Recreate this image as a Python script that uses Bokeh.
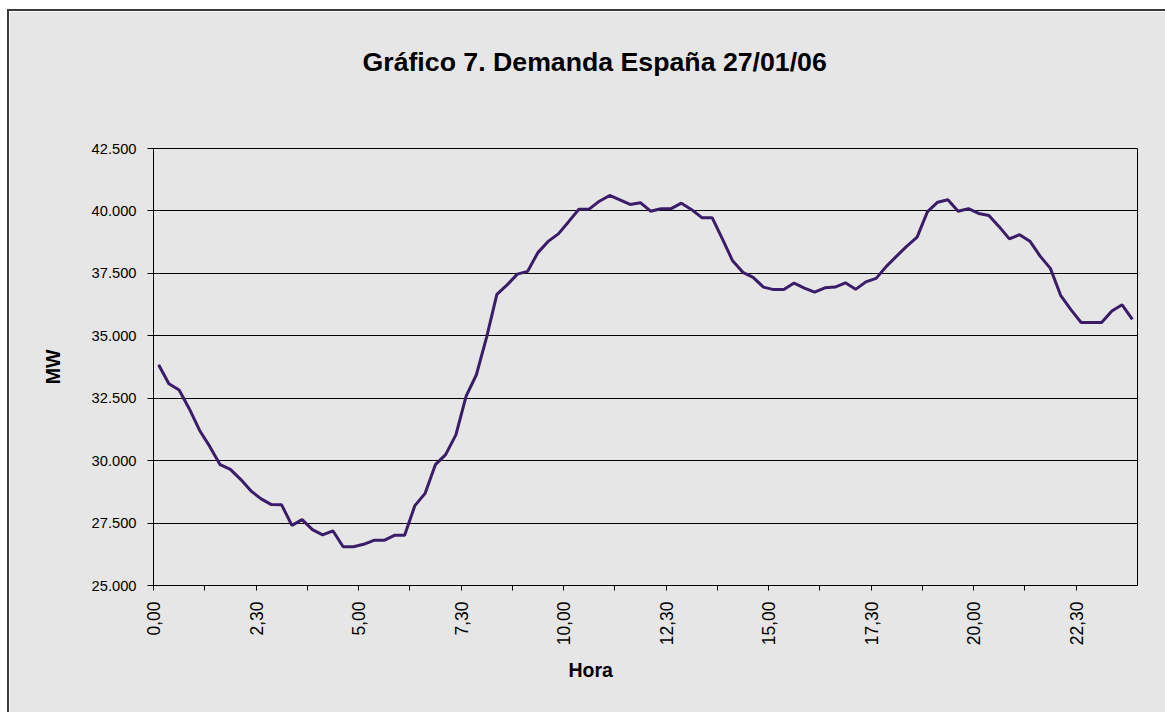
import math
import numpy as np
from bokeh.plotting import figure
from bokeh.models import Range1d, FixedTicker, Title
from bokeh.embed import file_html
from bokeh.resources import INLINE

# Demanda peninsular cada 15 minutos (MW), 27/01/2006, de 0:00 a 23:45
demand = [
    33840, 33080, 32830, 32070, 31210, 30560, 29840, 29650,
    29250, 28790, 28470, 28240, 28230, 27410, 27640, 27240,
    27030, 27190, 26550, 26550, 26650, 26810, 26810, 27010,
    27010, 28200, 28690, 29840, 30240, 31030, 32580, 33440,
    34950, 36660, 37040, 37470, 37580, 38330, 38780, 39080,
    39570, 40070, 40070, 40390, 40620, 40440, 40260, 40330,
    39990, 40090, 40090, 40310, 40050, 39730, 39730, 38880,
    38000, 37540, 37340, 36950, 36850, 36850, 37110, 36910,
    36750, 36920, 36950, 37120, 36860, 37160, 37300, 37780,
    38190, 38590, 38950, 39960, 40350, 40450, 39990, 40090,
    39900, 39820, 39370, 38880, 39050, 38790, 38190, 37700,
    36620, 36050, 35530, 35530, 35530, 35990, 36240, 35660,
]

hour_labels = ["0,00", "2,30", "5,00", "7,30", "10,00",
               "12,30", "15,00", "17,30", "20,00", "22,30"]
mw_ticks = [25000, 27500, 30000, 32500, 35000, 37500, 40000, 42500]

FONT = "Liberation Sans"
BG = "#E6E6E6"
LINE = "#3B1C69"

slot = np.arange(len(demand))

p = figure(
    output_backend="svg", toolbar_location=None,
    frame_width=984, frame_height=437,
    min_border_left=144, min_border_right=28,
    min_border_top=137, min_border_bottom=127,
    x_range=Range1d(-0.5, len(demand) - 0.5),
    y_range=Range1d(mw_ticks[0], mw_ticks[-1]),
    background_fill_color=BG, border_fill_color=BG,
    margin=(9, 0, 0, 7),
    styles={"border-left": "2px solid #3a3a3a", "border-top": "2px solid #3a3a3a"},
    title_location=None,
)

p.outline_line_color = "black"
p.outline_line_width = 1

# Category axis: tick marks on the boundaries every 5 slots, labels every 10 slots
bounds = [k * 5 - 0.5 for k in range(len(demand) // 5)]
xa = p.xaxis[0]
xa.ticker = FixedTicker(ticks=bounds, minor_ticks=[])
xa.major_label_overrides = {
    b: (hour_labels[i // 2] if i % 2 == 0 else "") for i, b in enumerate(bounds)
}
xa.major_label_orientation = math.pi / 2
xa.major_label_text_font = FONT
xa.major_label_text_font_size = "17.5px"
xa.major_label_text_color = "black"
xa.major_label_standoff = 11
xa.major_tick_in = 0
xa.major_tick_out = 5
xa.major_tick_line_color = "black"
xa.axis_line_color = "black"
xa.minor_tick_line_color = None

ya = p.yaxis[0]
ya.ticker = FixedTicker(ticks=mw_ticks, minor_ticks=[])
ya.major_label_overrides = {v: f"{v:,}".replace(",", ".") for v in mw_ticks}
ya.major_label_text_font = FONT
ya.major_label_text_font_size = "14.7px"
ya.major_label_text_color = "black"
ya.major_label_standoff = 11
ya.major_tick_in = 0
ya.major_tick_out = 6
ya.major_tick_line_color = "black"
ya.axis_line_color = "black"
ya.minor_tick_line_color = None

p.xgrid.visible = False
p.ygrid.ticker = FixedTicker(ticks=mw_ticks, minor_ticks=[])
p.ygrid.grid_line_color = "black"
p.ygrid.grid_line_width = 1

# Blank band between the frame and the chart title
p.add_layout(Title(text=" ", standoff=57, text_font_size="10px"), "above")
p.add_layout(Title(text="Gráfico 7. Demanda España 27/01/06", align="left",
                   offset=209, standoff=4, text_font=FONT,
                   text_font_style="bold", text_font_size="26.7px",
                   text_color="black"), "above")

p.add_layout(Title(text="Hora", align="left", offset=415, standoff=16,
                   text_font=FONT, text_font_style="bold",
                   text_font_size="19.5px", text_color="black"), "below")
p.add_layout(Title(text="MW", align="center", standoff=49,
                   text_font=FONT, text_font_style="bold",
                   text_font_size="19.5px", text_color="black"), "left")

p.line(slot, demand, line_color=LINE, line_width=3)

html = file_html(p, INLINE)
html = html.replace("<body>", '<body style="margin:0;background:white;">')
open("out.html", "w").write(html)
